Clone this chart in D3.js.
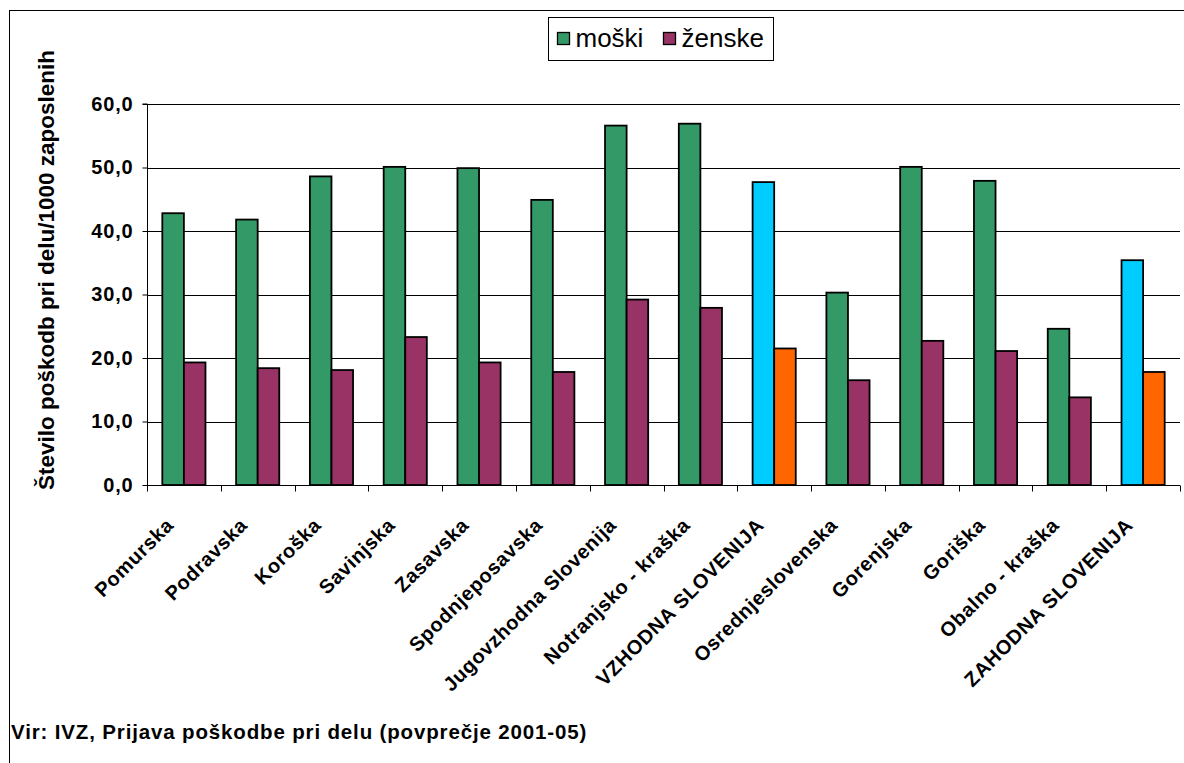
<!DOCTYPE html>
<html>
<head>
<meta charset="utf-8">
<script src="https://cdn.jsdelivr.net/npm/d3@7"></script>
<style>
  body { margin: 0; background: #fff; }
  svg text { font-family: "Liberation Sans", Arial, sans-serif; fill: #000; }
</style>
</head>
<body>
<svg id="chart" width="1184" height="763"></svg>
<script>
// values
const regions = ['Pomurska', 'Podravska', 'Koroška', 'Savinjska', 'Zasavska', 'Spodnjeposavska',
    'Jugovzhodna Slovenija', 'Notranjsko - kraška', 'VZHODNA SLOVENIJA', 'Osrednjeslovenska',
    'Gorenjska', 'Goriška', 'Obalno - kraška', 'ZAHODNA SLOVENIJA'];
const moski = [42.8, 41.8, 48.6, 50.1, 49.9, 44.9, 56.6, 56.9, 47.7, 30.3, 50.1, 47.9, 24.6, 35.4];
const zenske = [19.3, 18.4, 18.1, 23.3, 19.3, 17.8, 29.2, 27.9, 21.5, 16.5, 22.7, 21.1, 13.8, 17.8];
const yTicks = [0, 10, 20, 30, 40, 50, 60];
const totals = ['VZHODNA SLOVENIJA', 'ZAHODNA SLOVENIJA'];

const series = [
    { key: 'moški', values: moski, color: '#339966', totalColor: '#00ccff' },
    { key: 'ženske', values: zenske, color: '#993366', totalColor: '#ff6600' }
];

const svg = d3.select('#chart');
const margin = { left: 147, right: 1180, top: 104, bottom: 485 };
const labelFont = '20px';

// outer frame (right and bottom edges run off the picture)
svg.append('rect')
    .attr('x', 9.5).attr('y', 10.5)
    .attr('width', 1200).attr('height', 800)
    .attr('fill', 'none').attr('stroke', '#000').attr('stroke-width', 1);

const x = d3.scaleBand().domain(regions).range([margin.left, margin.right]).paddingInner(0).paddingOuter(0);
const xInner = d3.scaleBand().domain(series.map(s => s.key)).range([0, x.bandwidth()]).paddingOuter(0.71);
const y = d3.scaleLinear().domain([0, 60]).range([margin.bottom, margin.top]);

// gridlines
svg.append('g')
    .selectAll('line')
    .data(yTicks.slice(1))
    .enter().append('line')
    .attr('x1', margin.left).attr('x2', margin.right)
    .attr('y1', d => Math.round(y(d)) + 0.5).attr('y2', d => Math.round(y(d)) + 0.5)
    .attr('stroke', '#000').attr('stroke-width', 1);

// bars
const groups = svg.append('g')
    .selectAll('g')
    .data(regions)
    .enter().append('g')
    .attr('transform', d => `translate(${x(d)},0)`);

groups.selectAll('rect')
    .data((region, i) => series.map(s => ({ region, key: s.key, value: s.values[i], color: totals.includes(region) ? s.totalColor : s.color })))
    .enter().append('rect')
    .attr('x', d => xInner(d.key))
    .attr('y', d => y(d.value))
    .attr('width', xInner.bandwidth())
    .attr('height', d => y(0) - y(d.value))
    .attr('fill', d => d.color)
    .attr('stroke', '#000')
    .attr('stroke-width', 1.8);

// y axis
const yAxis = svg.append('g')
    .attr('transform', `translate(${margin.left + 0.5},0)`)
    .call(d3.axisLeft(y).tickValues(yTicks).tickSize(5).tickPadding(9).tickFormat(d => d3.format('.1f')(d).replace('.', ',')));
yAxis.select('.domain').attr('d', `M-5,${y(60)}H0V${y(0)}`);
yAxis.selectAll('text')
    .style('font-size', labelFont).style('font-weight', 'bold').style('letter-spacing', '0.8px')
    .style('font-family', '"Liberation Sans", Arial, sans-serif');

// x axis
const xAxis = svg.append('g').attr('transform', `translate(0,${margin.bottom + 0.5})`);
xAxis.append('line')
    .attr('x1', margin.left).attr('x2', margin.right)
    .attr('stroke', '#000');
xAxis.selectAll('line.tick')
    .data(regions.concat(['end']))
    .enter().append('line')
    .attr('class', 'tick')
    .attr('x1', (d, i) => Math.round(i < regions.length ? x(d) : x.range()[1]) + 0.5)
    .attr('x2', (d, i) => Math.round(i < regions.length ? x(d) : x.range()[1]) + 0.5)
    .attr('y1', 0).attr('y2', 6)
    .attr('stroke', '#000');
xAxis.selectAll('text')
    .data(regions)
    .enter().append('text')
    .attr('transform', d => `translate(${x(d) + x.bandwidth() / 2 - 14},${36}) rotate(-45)`)
    .attr('text-anchor', 'end')
    .attr('dy', '0.35em')
    .style('font-size', labelFont).style('font-weight', 'bold').style('letter-spacing', '0.6px')
    .text(d => d);

// y axis title
svg.append('text')
    .attr('transform', `translate(54,${270}) rotate(-90)`)
    .attr('text-anchor', 'middle')
    .style('font-size', '22.5px').style('font-weight', 'bold')
    .text('Število poškodb pri delu/1000 zaposlenih');

// legend
const legend = svg.append('g').attr('transform', 'translate(548.5,17.5)');
legend.append('rect')
    .attr('width', 225).attr('height', 43)
    .attr('fill', '#fff').attr('stroke', '#000');
const legendItems = legend.selectAll('g.item')
    .data(series)
    .enter().append('g')
    .attr('class', 'item')
    .attr('transform', (d, i) => `translate(${i === 0 ? 9 : 115},15)`);
legendItems.append('rect')
    .attr('width', 12).attr('height', 12)
    .attr('fill', d => d.color).attr('stroke', '#000').attr('stroke-width', 1.3);
legendItems.append('text')
    .attr('x', 18).attr('y', 14)
    .style('font-size', '26px')
    .text(d => d.key);

// source note
svg.append('text')
    .attr('x', 11).attr('y', 739)
    .style('font-size', '20.5px').style('font-weight', 'bold').style('letter-spacing', '0.85px')
    .text('Vir: IVZ, Prijava poškodbe pri delu (povprečje 2001-05)');
</script>
</body>
</html>
